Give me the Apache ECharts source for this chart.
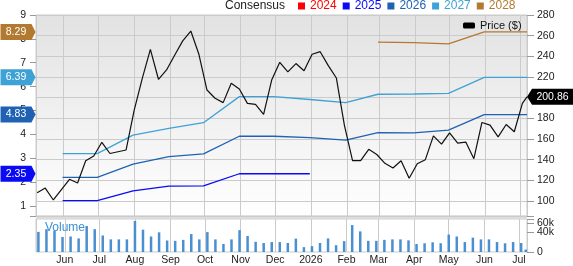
<!DOCTYPE html>
<html>
<head>
<meta charset="utf-8">
<script src="https://cdn.jsdelivr.net/npm/echarts@6.0.0/dist/echarts.min.js"></script>
<style>
  html, body { margin: 0; padding: 0; background: #fff; }
  #chart { width: 573px; height: 266px; }
</style>
</head>
<body>
<div id="chart"></div>
<script>
// weekly price + volume
var weeks = [
  '2025-05-09', '2025-05-16', '2025-05-23', '2025-05-30', '2025-06-06', '2025-06-13', '2025-06-20', '2025-06-27',
  '2025-07-04', '2025-07-11', '2025-07-18', '2025-07-25', '2025-08-01', '2025-08-08', '2025-08-15', '2025-08-22',
  '2025-08-29', '2025-09-05', '2025-09-12', '2025-09-19', '2025-09-26', '2025-10-03', '2025-10-10', '2025-10-17',
  '2025-10-24', '2025-10-31', '2025-11-07', '2025-11-14', '2025-11-21', '2025-11-28', '2025-12-05', '2025-12-12',
  '2025-12-19', '2025-12-26', '2026-01-02', '2026-01-09', '2026-01-16', '2026-01-23', '2026-01-30', '2026-02-06',
  '2026-02-13', '2026-02-20', '2026-02-27', '2026-03-06', '2026-03-13', '2026-03-20', '2026-03-27', '2026-04-03',
  '2026-04-10', '2026-04-17', '2026-04-24', '2026-05-01', '2026-05-08', '2026-05-15', '2026-05-22', '2026-05-29',
  '2026-06-05', '2026-06-12', '2026-06-19', '2026-06-26', '2026-07-03', '2026-07-07'
];
var price = [
  108, 112.5, 101, 111, 121, 117.5, 139, 143.5, 156.8, 146, 147.7, 149.4, 188, 218.7, 246.8, 217.8,
  226.8, 241, 255, 264.5, 242, 207.4, 199.4, 195.2, 213.9, 208.4, 194.5, 193.6, 183.9, 217, 234.2, 225,
  233, 226, 242, 244.5, 231, 219, 173, 139, 139, 150, 145, 136.5, 132, 139, 122, 136,
  140, 163, 155, 166, 156, 157, 141, 176, 173.5, 162, 174, 167, 194.5, 200.86
];
var volume = [
  41.5, 47, 44, 31, 32, 28, 53.5, 47, 34, 26, 26, 26, 64, 46, 32, 40.5,
  23.7, 23, 25, 37, 26, 41, 26, 16.5, 26, 45, 33, 21, 18.5, 20.5, 20.5, 18.5,
  27.6, 10, 12, 18.5, 28, 14, 22.4, 55.5, 42.5, 23, 23, 25, 26, 26, 24, 16.5,
  18, 20, 18, 36, 32, 20.5, 29.6, 26, 26, 20.5, 18, 20.5, 18.5, 5
];

// monthly consensus EPS
var estDates = [
  '2025-05-31', '2025-06-30', '2025-07-31', '2025-08-31', '2025-09-30', '2025-10-31', '2025-11-30', '2025-12-31',
  '2026-01-31', '2026-02-28', '2026-03-31', '2026-04-30', '2026-05-31', '2026-06-30', '2026-07-07'
];
var eps2024 = [];
var eps2025 = [1.22, 1.22, 1.63, 1.83, 1.84, 2.35, 2.35, 2.35, null, null, null, null, null, null, null];
var eps2026 = [2.2, 2.2, 2.75, 3.07, 3.18, 3.92, 3.92, 3.86, 3.76, 4.07, 4.06, 4.18, 4.83, 4.83, 4.83];
var eps2027 = [3.19, 3.19, 3.97, 4.25, 4.49, 5.58, 5.58, 5.46, 5.33, 5.68, 5.69, 5.72, 6.39, 6.39, 6.39];
var eps2028 = [null, null, null, null, null, null, null, null, null, 7.86, 7.84, 7.79, 8.29, 8.29, 8.29];

var xMin = '2025-05-08';
var xMax = '2026-07-07';
var monthNames = ['Jan', 'Feb', 'Mar', 'Apr', 'May', 'Jun', 'Jul', 'Aug', 'Sep', 'Oct', 'Nov', 'Dec'];

var font = 'Liberation Sans, Arial, sans-serif';
var gridColor = '#cbcbcb';
var colors = {
  '2024': '#ff0000',
  '2025': '#0a0af5',
  '2026': '#1f62b3',
  '2027': '#3fa2d6',
  '2028': '#b27a30'
};

var chart = echarts.init(document.getElementById('chart'));

function pairs(xs, ys) {
  return ys.map(function (v, i) { return [xs[i], v]; });
}

function last(arr) {
  return arr[arr.length - 1];
}

function lastValid(arr) {
  var out = null;
  arr.forEach(function (v) { if (v != null) out = v; });
  return out;
}

// tag on the left axis for the latest estimate
function leftTag(color, value) {
  return {
    silent: true,
    symbol: 'path://M0,0L31,0L35,8L31,16L0,16Z',
    symbolSize: [35, 16],
    symbolOffset: [-18, 0],
    itemStyle: { color: color },
    label: {
      show: true,
      color: '#fff',
      fontSize: 10.5,
      fontFamily: font,
      offset: [-2, 0],
      formatter: function () { return value.toFixed(2); }
    },
    data: [{ coord: [xMin, value] }]
  };
}

function estSeries(name, values) {
  var s = {
    name: name,
    type: 'line',
    xAxisIndex: 0,
    yAxisIndex: 0,
    data: pairs(estDates, values),
    showSymbol: false,
    clip: false,
    lineStyle: { width: 1.3, color: colors[name] },
    itemStyle: { color: colors[name] },
    z: 3
  };
  if (values.length) {
    s.markPoint = leftTag(colors[name], lastValid(values));
  }
  return s;
}

function timeLabel(v) {
  var d = new Date(v);
  if (d.getDate() !== 1) return '';
  return d.getMonth() === 0 ? String(d.getFullYear()) : monthNames[d.getMonth()];
}

var monthMs = 30 * 24 * 3600 * 1000;

var option = {
  animation: false,
  textStyle: { fontFamily: font },
  title: [
    {
      text: 'Consensus',
      left: 225,
      top: 0,
      padding: 0,
      textStyle: { fontSize: 12, fontWeight: 'normal', color: '#222', fontFamily: font }
    },
    {
      text: 'Volume',
      left: 45,
      top: 222,
      padding: 0,
      textStyle: { fontSize: 12, fontWeight: 'normal', color: '#3d8fd2', fontFamily: font }
    }
  ],
  legend: [
    {
      left: 298,
      top: 0,
      padding: 0,
      itemGap: 6,
      itemWidth: 7,
      itemHeight: 7,
      icon: 'rect',
      selectedMode: false,
      data: ['2024', '2025', '2026', '2027', '2028'].map(function (n) {
        return { name: n, textStyle: { color: colors[n] } };
      }),
      textStyle: { fontSize: 12, fontFamily: font }
    },
    {
      left: 463,
      top: 20,
      padding: 0,
      itemWidth: 12,
      itemHeight: 6,
      icon: 'roundRect',
      selectedMode: false,
      data: ['Price ($)'],
      textStyle: { fontSize: 11, color: '#111', fontFamily: font }
    }
  ],
  grid: [
    {
      left: 36, right: 46, top: 15, bottom: 50,
      show: true,
      borderColor: gridColor,
      borderWidth: 1,
      backgroundColor: new echarts.graphic.LinearGradient(0, 0, 0, 1, [
        { offset: 0, color: '#e2e2e2' },
        { offset: 1, color: '#ffffff' }
      ])
    },
    {
      left: 36, right: 46, top: 219, bottom: 12,
      show: true,
      borderColor: gridColor,
      borderWidth: 1,
      backgroundColor: '#ffffff'
    }
  ],
  graphic: [
    {
      type: 'rect',
      left: 36, top: 215.5,
      shape: { width: 491, height: 3.5 },
      style: { fill: '#dcdcdc' },
      silent: true
    }
  ],
  xAxis: [
    {
      type: 'time',
      gridIndex: 0,
      min: xMin,
      max: xMax,
      minInterval: monthMs,
      maxInterval: monthMs,
      axisLine: { show: false },
      axisTick: { show: false },
      axisLabel: { show: false },
      splitLine: { show: true, lineStyle: { color: gridColor, width: 1 } }
    },
    {
      type: 'time',
      gridIndex: 1,
      min: xMin,
      max: xMax,
      minInterval: monthMs,
      maxInterval: monthMs,
      axisLine: { show: false },
      axisTick: { show: false },
      axisLabel: {
        show: true,
        margin: 3,
        fontSize: 10.5,
        color: '#222',
        fontFamily: font,
        formatter: timeLabel,
        showMinLabel: false,
        showMaxLabel: false
      },
      splitLine: { show: true, lineStyle: { color: gridColor, width: 1 } }
    }
  ],
  yAxis: [
    {
      // EPS
      type: 'value',
      gridIndex: 0,
      position: 'left',
      min: 0.58,
      max: 9,
      splitNumber: 8,
      axisLine: { show: false },
      axisTick: { show: true, length: 6, lineStyle: { color: '#999' } },
      splitLine: { show: false },
      axisLabel: {
        margin: 10,
        fontSize: 10.5,
        color: '#222',
        fontFamily: font,
        formatter: function (v) {
          return Math.abs(v - Math.round(v)) < 1e-6 ? String(Math.round(v)) : '';
        }
      }
    },
    {
      // price
      type: 'value',
      gridIndex: 0,
      position: 'right',
      min: 85.5,
      max: 280,
      splitNumber: 10,
      axisLine: { show: false },
      axisTick: { show: true, length: 7, lineStyle: { color: '#999' } },
      splitLine: { show: true, lineStyle: { color: gridColor, width: 1 } },
      axisLabel: {
        margin: 10,
        fontSize: 10.5,
        color: '#222',
        fontFamily: font,
        formatter: function (v) {
          return Math.abs(v % 20) < 1e-6 ? String(v) : '';
        }
      }
    },
    {
      // volume
      type: 'value',
      gridIndex: 1,
      position: 'right',
      min: 0,
      max: 68000,
      splitNumber: 3,
      axisLine: { show: false },
      axisTick: { show: true, length: 7, lineStyle: { color: '#999' } },
      splitLine: { show: false },
      axisLabel: {
        margin: 10,
        fontSize: 10.5,
        color: '#222',
        fontFamily: font,
        showMinLabel: true,
        hideOverlap: false,
        formatter: function (v) {
          if (v % 20000 !== 0) return '';
          return v === 0 ? '0' : (v / 1000) + 'k';
        }
      }
    }
  ],
  series: [
    estSeries('2024', eps2024),
    estSeries('2025', eps2025),
    estSeries('2026', eps2026),
    estSeries('2027', eps2027),
    estSeries('2028', eps2028),
    {
      name: 'Price ($)',
      type: 'line',
      xAxisIndex: 0,
      yAxisIndex: 1,
      data: pairs(weeks, price),
      showSymbol: false,
      clip: false,
      lineStyle: { width: 1.2, color: '#111' },
      itemStyle: { color: '#000' },
      z: 4,
      markPoint: {
        silent: true,
        symbol: 'path://M0,8L5,0L46,0L46,16L5,16Z',
        symbolSize: [46, 16],
        symbolOffset: [23, 0],
        itemStyle: { color: '#000' },
        label: {
          show: true,
          color: '#fff',
          fontSize: 10.5,
          fontFamily: font,
          offset: [2.5, 0],
          formatter: function () { return last(price).toFixed(2); }
        },
        data: [{ coord: [last(weeks), last(price)] }]
      }
    },
    {
      name: 'Volume',
      type: 'bar',
      xAxisIndex: 1,
      yAxisIndex: 2,
      data: pairs(weeks, volume.map(function (v) { return v * 1000; })),
      barWidth: 2.5,
      itemStyle: { color: '#4a8fd0' }
    }
  ]
};

option && chart.setOption(option);
</script>
</body>
</html>
